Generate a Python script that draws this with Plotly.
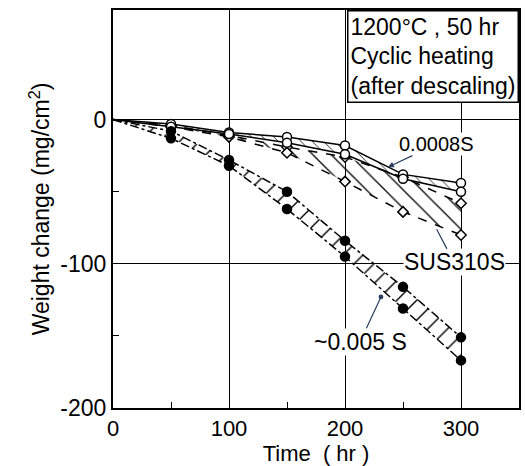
import plotly.graph_objects as go

time_hr = [0, 50, 100, 150, 200, 250, 300]

# 0.0008S (open circles) upper / lower
s0008_upper = [0, -3, -9, -12, -18, -38, -44]
s0008_lower = [0, -5, -10, -16, -24, -41, -50]
# SUS310S (open diamonds) upper / lower
sus_upper = [0, -4, -11, -19, -26, -40, -58]
sus_lower = [0, -5, -12, -23, -43, -64, -80]
# ~0.005S (filled circles) upper / lower
s005_upper = [0, -8, -28, -50, -84, -116, -151]
s005_lower = [0, -13, -32, -62, -95, -131, -167]

x_ticks = [0, 100, 200, 300]
y_ticks = [0, -100, -200]

FONT = "Liberation Sans, sans-serif"
fig = go.Figure()

def band(upper, lower, dash, shape, size):
    fig.add_trace(go.Scatter(x=time_hr, y=upper, mode="lines",
                             line=dict(color="black", width=1.5, dash=dash),
                             hoverinfo="skip", showlegend=False))
    fig.add_trace(go.Scatter(x=time_hr, y=lower, mode="lines",
                             line=dict(color="black", width=1.5, dash=dash),
                             fill="tonexty", fillcolor="rgba(0,0,0,0)",
                             fillpattern=dict(shape=shape, size=size, solidity=0.1,
                                              fgcolor="black", fgopacity=1,
                                              bgcolor="rgba(0,0,0,0)"),
                             hoverinfo="skip", showlegend=False))

band(s005_upper, s005_lower, "dashdot", "/", 14)
band(sus_upper, sus_lower, "dash", "\\", 13)
band(s0008_upper, s0008_lower, "solid", "\\", 8)

def markers(vals, symbol, fill):
    fig.add_trace(go.Scatter(x=time_hr[1:], y=vals[1:], mode="markers",
                             marker=dict(symbol=symbol, size=9 if symbol != "diamond" else 8,
                                         color=fill, line=dict(color="black", width=1.5)),
                             showlegend=False))

markers(sus_upper, "diamond", "white")
markers(sus_lower, "diamond", "white")
markers(s0008_upper, "circle", "white")
markers(s0008_lower, "circle", "white")
markers(s005_upper, "circle", "black")
markers(s005_lower, "circle", "black")

# labels (text at ax/ay, arrow head at x/y)
fig.add_annotation(x=237, y=-33, ax=279, ay=-17, text="0.0008S", showarrow=True,
                   axref="x", ayref="y", arrowhead=2, arrowsize=1, arrowwidth=1.2,
                   font=dict(family=FONT, size=20, color="black"), bgcolor="white",
                   borderpad=0)
fig.add_annotation(x=279, y=-76, ax=294, ay=-99, text="SUS310S", showarrow=True,
                   axref="x", ayref="y", arrowhead=0, arrowwidth=1.2,
                   font=dict(family=FONT, size=23, color="black"), bgcolor="white",
                   borderpad=0)
fig.add_annotation(x=231, y=-123, ax=213, ay=-154, text="~0.005 S", showarrow=True,
                   axref="x", ayref="y", arrowhead=6, arrowsize=1, arrowwidth=1.2,
                   font=dict(family=FONT, size=23, color="black"), bgcolor="white",
                   borderpad=0)

fig.add_annotation(x=1, y=1, xref="paper", yref="paper", xanchor="right", yanchor="top",
                   text="1200°C , 50 hr<br>Cyclic heating<br>(after descaling)",
                   showarrow=False, align="left", bgcolor="white", bordercolor="black",
                   borderwidth=1.5, borderpad=2,
                   font=dict(family=FONT, size=23, color="black"))

axis_common = dict(showline=True, linecolor="black", linewidth=2, mirror=True,
                   showgrid=True, gridcolor="black", gridwidth=1.2, zeroline=False,
                   ticks="inside", ticklen=0, automargin=False)

fig.update_xaxes(range=[0, 350], tickvals=x_ticks, ticktext=[str(v) for v in x_ticks],
                 tickfont=dict(family=FONT, size=22, color="black"),
                 title=dict(text="Time  ( hr )", font=dict(family=FONT, size=22, color="black"),
                            standoff=0),
                 minor=dict(tickvals=[50, 150, 250], ticks="inside", ticklen=6,
                            tickcolor="black", showgrid=False),
                 **axis_common)
fig.update_yaxes(range=[-200, 76], tickvals=y_ticks, ticktext=[str(v) for v in y_ticks],
                 tickfont=dict(family=FONT, size=23, color="black"),
                 title=dict(text="Weight change (mg/cm<sup>2</sup>)",
                            font=dict(family=FONT, size=23, color="black"), standoff=4),
                 minor=dict(tickvals=[-50, -150], ticks="inside", ticklen=6,
                            tickcolor="black", showgrid=False),
                 **axis_common)

fig.update_layout(width=525, height=466, margin=dict(l=113, r=6, t=10, b=58),
                  plot_bgcolor="white", paper_bgcolor="white",
                  font=dict(family=FONT, color="black"))

fig.write_html("out.html", config={"displayModeBar": False},
               post_script="document.body.style.margin='0';")
